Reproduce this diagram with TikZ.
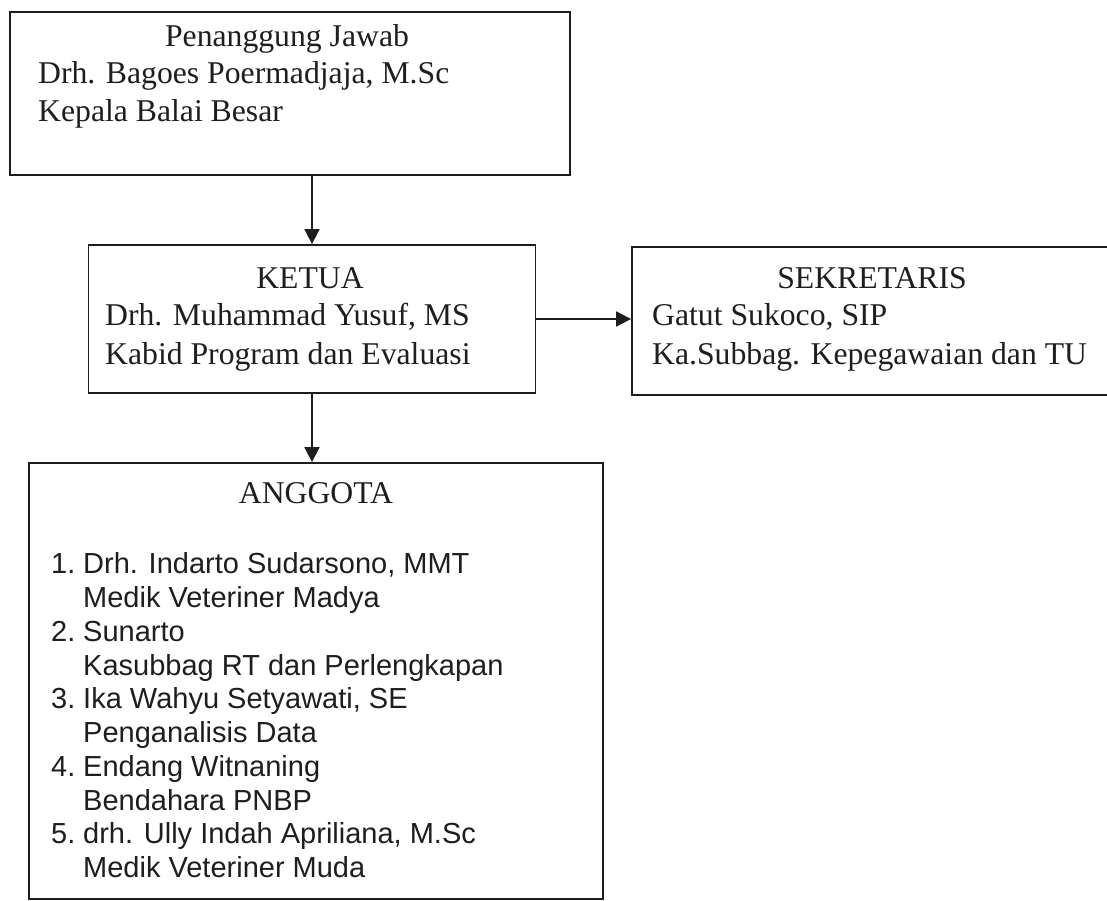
\documentclass[tikz,border=0pt]{standalone}
\usepackage{fontspec}
\setmainfont{Liberation Serif}
\newfontfamily\listfont{Liberation Sans}
\usetikzlibrary{arrows.meta}
\definecolor{ink}{HTML}{1E1E1E}
\begin{document}
\begin{tikzpicture}[x=1pt,y=-1pt,
  box/.style={draw=ink,line width=1.8pt,rectangle,inner sep=0pt,minimum width=#1},
  box/.default=100pt,
  arr/.style={draw=ink,line width=1.8pt,-{Triangle[length=15pt,width=15pt]}},
  ser/.style={inner sep=0pt,text=ink,font=\fontsize{31.7}{38}\selectfont},
  lst/.style={inner sep=0pt,text=ink,font=\listfont\fontsize{29}{33}\selectfont,anchor=base west}]
\useasboundingbox (0,0) rectangle (1107,901);
\fill[white] (0,0) rectangle (1107,901);
% boxes
\node[box=560pt,minimum height=163pt] (pj) at (290,93.5) {};
\node[box=447pt,minimum height=148pt] (ketua) at (312,319) {};
\node[box=480pt,minimum height=148pt] (sek) at (872,321) {};
\node[box=574pt,minimum height=436pt] (ang) at (316,681) {};
% connectors
\draw[arr] (pj.south -| ketua.north) -- (ketua.north);
\draw[arr] (ketua.east) -- (ketua.east -| sek.west);
\draw[arr] (ketua.south) -- (ketua.south |- ang.north);
% Penanggung Jawab
\node[ser,anchor=base] (pj1) at (287,47) {Penanggung Jawab};
\node[ser,anchor=base west] (pj2) at (38,84) {Drh. Bagoes Poermadjaja, M.Sc};
\node[ser,anchor=base west] (pj3) at (38,122) {Kepala Balai Besar};
% Ketua
\node[ser,anchor=base] (k1) at (310,288) {KETUA};
\node[ser,anchor=base west] (k2) at (105,325) {Drh. Muhammad Yusuf, MS};
\node[ser,anchor=base west] (k3) at (105,364) {Kabid Program dan Evaluasi};
% Sekretaris
\node[ser,anchor=base] (s1) at (872,288) {SEKRETARIS};
\node[ser,anchor=base west] (s2) at (652,325) {Gatut Sukoco, SIP};
\node[ser,anchor=base west] (s3) at (652,364) {Ka.Subbag. Kepegawaian dan TU};
% Anggota
\node[ser,anchor=base] (a0) at (316,503) {ANGGOTA};
\node[lst] (n1) at (51,573) {1.};
\node[lst] (t1) at (83,573) {Drh. Indarto Sudarsono, MMT};
\node[lst] (t1b) at (83,607) {Medik Veteriner Madya};
\node[lst] (n2) at (51,641) {2.};
\node[lst] (t2) at (83,641) {Sunarto};
\node[lst] (t2b) at (83,675) {Kasubbag RT dan Perlengkapan};
\node[lst] (n3) at (51,708) {3.};
\node[lst] (t3) at (83,708) {Ika Wahyu Setyawati, SE};
\node[lst] (t3b) at (83,742) {Penganalisis Data};
\node[lst] (n4) at (51,776) {4.};
\node[lst] (t4) at (83,776) {Endang Witnaning};
\node[lst] (t4b) at (83,810) {Bendahara PNBP};
\node[lst] (n5) at (51,843) {5.};
\node[lst] (t5) at (83,843) {drh. Ully Indah Apriliana, M.Sc};
\node[lst] (t5b) at (83,877) {Medik Veteriner Muda};
\end{tikzpicture}
\end{document}
